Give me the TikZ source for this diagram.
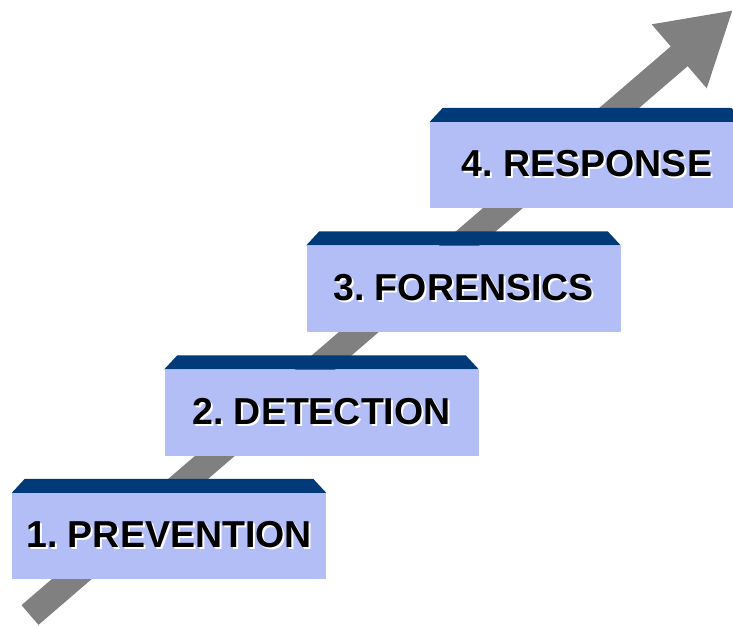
\documentclass[tikz,border=0pt]{standalone}
\usepackage{fontspec}
\setmainfont{Liberation Sans}
\usetikzlibrary{arrows.meta}
\definecolor{stagefill}{RGB}{178,190,245}
\definecolor{stagetop}{RGB}{0,58,120}
\definecolor{arrowgray}{RGB}{128,128,128}
\frenchspacing
\newcommand{\shadowlabel}[1]{\rlap{\kern2pt\raisebox{-2pt}{\textcolor{white}{#1}}}#1}
\begin{document}
\begin{tikzpicture}[x=1pt, y=-1pt,
	stage/.style={fill=stagefill, minimum width=314pt, minimum height=86pt, inner sep=0pt, font=\fontsize{37.5}{40}\selectfont\bfseries},
	stagebevel/.style={fill=stagetop}]
		\clip (0,0) rectangle (733,626);
		\useasboundingbox (0,0) rectangle (733,626);
		\coordinate (tail) at (30,615);
		\coordinate (tip) at (733,10);
		\draw[arrowgray, line width=26pt, -{Triangle[length=71pt, width=79pt]}] (tail) -- (tip);
		\node[stage] (prevention) at (169,536) {\shadowlabel{1. PREVENTION}};
		\node[stage] (detection) at (321.5,412.5) {\shadowlabel{2. DETECTION}};
		\node[stage] (forensics) at (463.5,288.5) {\shadowlabel{3. FORENSICS}};
		\node[stage] (response) at (587,165) {\shadowlabel{4. RESPONSE}};
		\fill[stagebevel] (prevention.north west) -- ++(13,-14) -- ([shift={(-13,-14)}]prevention.north east) -- (prevention.north east) -- cycle;
		\fill[stagebevel] (detection.north west) -- ++(13,-14) -- ([shift={(-13,-14)}]detection.north east) -- (detection.north east) -- cycle;
		\fill[stagebevel] (forensics.north west) -- ++(13,-14) -- ([shift={(-13,-14)}]forensics.north east) -- (forensics.north east) -- cycle;
		\fill[stagebevel] (response.north west) -- ++(13,-14) -- ([shift={(-13,-14)}]response.north east) -- (response.north east) -- cycle;
\end{tikzpicture}
\end{document}
